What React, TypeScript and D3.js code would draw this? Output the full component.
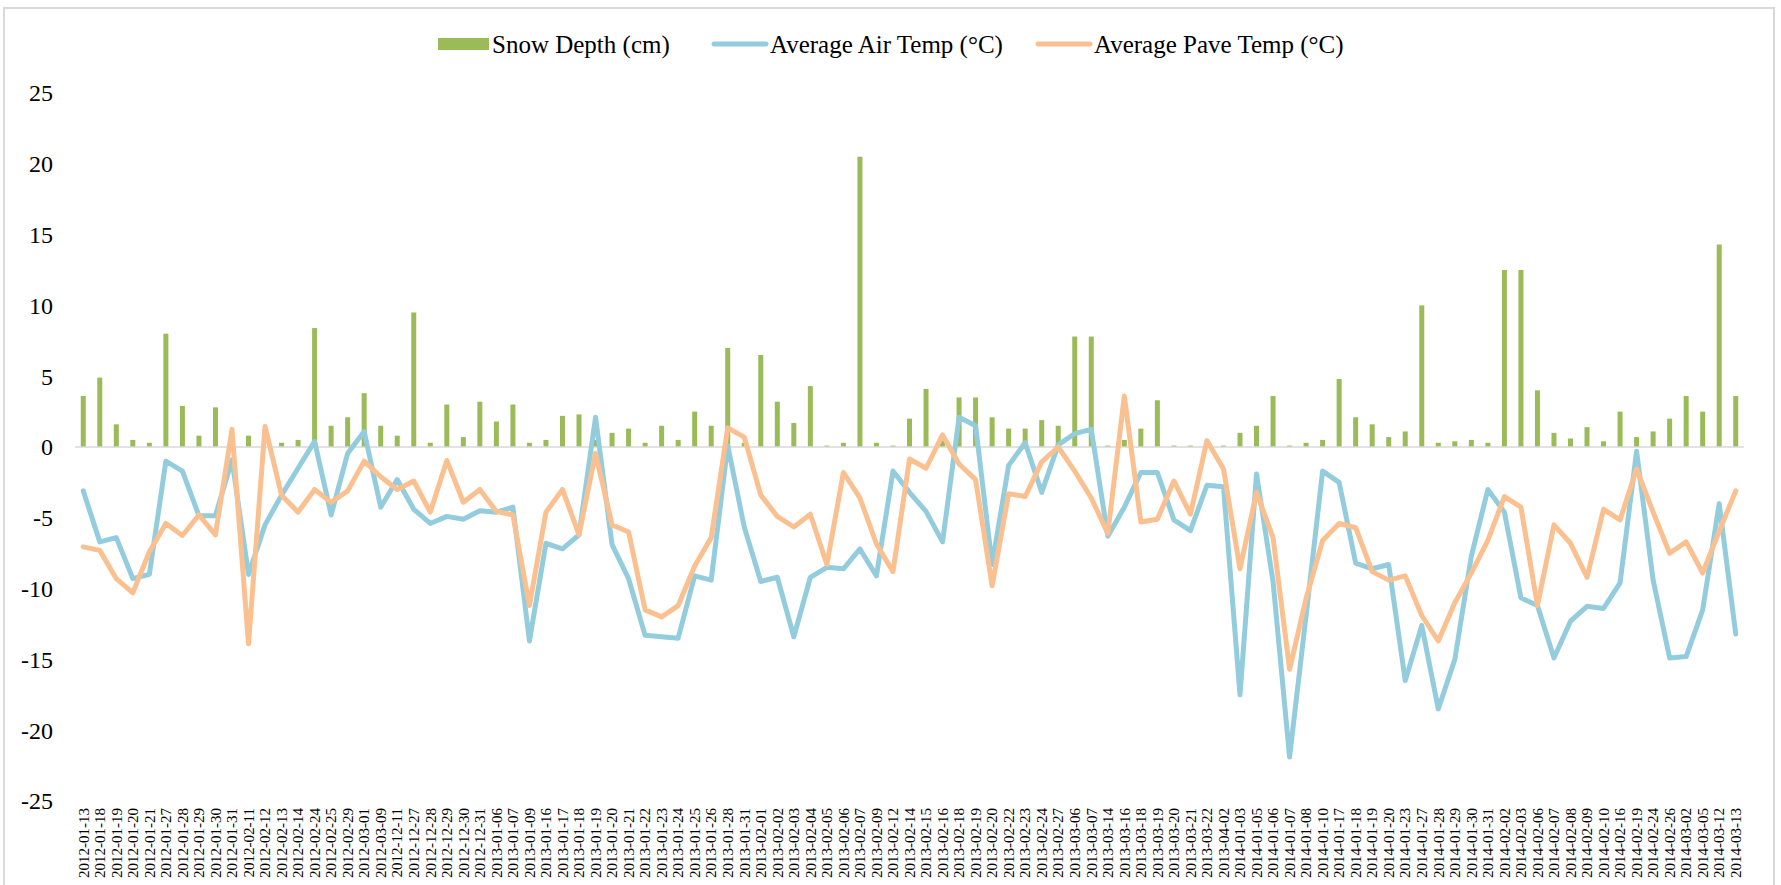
import React from "react";
import * as d3 from "d3";

const dates = [
  "2012-01-13", "2012-01-18", "2012-01-19", "2012-01-20", "2012-01-21", "2012-01-27", "2012-01-28",
  "2012-01-29", "2012-01-30", "2012-01-31", "2012-02-11", "2012-02-12", "2012-02-13", "2012-02-14",
  "2012-02-24", "2012-02-25", "2012-02-29", "2012-03-01", "2012-03-09", "2012-12-11", "2012-12-27",
  "2012-12-28", "2012-12-29", "2012-12-30", "2012-12-31", "2013-01-06", "2013-01-07", "2013-01-09",
  "2013-01-16", "2013-01-17", "2013-01-18", "2013-01-19", "2013-01-20", "2013-01-21", "2013-01-22",
  "2013-01-23", "2013-01-24", "2013-01-25", "2013-01-26", "2013-01-28", "2013-01-31", "2013-02-01",
  "2013-02-02", "2013-02-03", "2013-02-04", "2013-02-05", "2013-02-06", "2013-02-07", "2013-02-09",
  "2013-02-12", "2013-02-14", "2013-02-15", "2013-02-16", "2013-02-18", "2013-02-19", "2013-02-20",
  "2013-02-22", "2013-02-23", "2013-02-24", "2013-02-27", "2013-03-06", "2013-03-07", "2013-03-14",
  "2013-03-16", "2013-03-18", "2013-03-19", "2013-03-20", "2013-03-21", "2013-03-22", "2013-04-02",
  "2014-01-03", "2014-01-05", "2014-01-06", "2014-01-07", "2014-01-08", "2014-01-10", "2014-01-17",
  "2014-01-18", "2014-01-19", "2014-01-20", "2014-01-23", "2014-01-27", "2014-01-28", "2014-01-29",
  "2014-01-30", "2014-01-31", "2014-02-02", "2014-02-03", "2014-02-06", "2014-02-07", "2014-02-08",
  "2014-02-09", "2014-02-10", "2014-02-16", "2014-02-19", "2014-02-24", "2014-02-26", "2014-03-02",
  "2014-03-05", "2014-03-12", "2014-03-13",
];

const snowDepth = [
  3.6, 4.9, 1.6, 0.5, 0.3, 8.0, 2.9, 0.8, 2.8, 0, 0.8, 0, 0.3, 0.5, 8.4, 1.5, 2.1, 3.8, 1.5, 0.8,
  9.5, 0.3, 3.0, 0.7, 3.2, 1.8, 3.0, 0.3, 0.5, 2.2, 2.3, 0.5, 1.0, 1.3, 0.3, 1.5, 0.5, 2.5, 1.5, 7.0,
  0.3, 6.5, 3.2, 1.7, 4.3, 0.1, 0.3, 20.5, 0.3, 0.1, 2.0, 4.1, 0.5, 3.5, 3.5, 2.1, 1.3, 1.3, 1.9, 1.5,
  7.8, 7.8, 0.1, 0.5, 1.3, 3.3, 0.1, 0.1, 0.2, 0.1, 1.0, 1.5, 3.6, 0.1, 0.3, 0.5, 4.8, 2.1, 1.6, 0.7,
  1.1, 10.0, 0.3, 0.4, 0.5, 0.3, 12.5, 12.5, 4.0, 1.0, 0.6, 1.4, 0.4, 2.5, 0.7, 1.1, 2.0, 3.6, 2.5,
  14.3, 3.6,
];

const airTemp = [
  -3.1, -6.7, -6.4, -9.3, -9.0, -1.0, -1.7, -4.85, -4.85, -0.9, -9.0, -5.5, -3.4, -1.5, 0.4, -4.8,
  -0.45, 1.1, -4.25, -2.3, -4.4, -5.4, -4.9, -5.1, -4.5, -4.6, -4.25, -13.7, -6.8, -7.2, -6.2, 2.1,
  -6.9, -9.3, -13.3, -13.4, -13.5, -9.1, -9.4, 0.1, -5.65, -9.5, -9.2, -13.4, -9.2, -8.5, -8.6, -7.2,
  -9.1, -1.7, -3.2, -4.55, -6.7, 2.1, 1.5, -8.3, -1.3, 0.3, -3.2, 0.15, 0.95, 1.25, -6.3, -4.25, -1.8,
  -1.8, -5.15, -5.9, -2.7, -2.8, -17.5, -1.9, -9.5, -21.9, -11.9, -1.7, -2.5, -8.2, -8.6, -8.3, -16.5,
  -12.6, -18.5, -15.0, -7.7, -3.0, -4.6, -10.65, -11.2, -14.9, -12.3, -11.25, -11.4, -9.6, -0.3, -9.4,
  -14.9, -14.8, -11.5, -4.0, -13.2,
];

const paveTemp = [
  -7.05, -7.3, -9.3, -10.3, -7.4, -5.4, -6.25, -4.8, -6.2, 1.25, -13.9, 1.45, -3.4, -4.6, -3.0, -3.9,
  -3.1, -1.0, -2.1, -3.0, -2.4, -4.6, -0.95, -3.9, -3.0, -4.55, -4.8, -11.2, -4.6, -3.0, -6.2, -0.45,
  -5.5, -6.0, -11.5, -12.0, -11.2, -8.4, -6.4, 1.35, 0.7, -3.4, -4.9, -5.65, -4.75, -8.3, -1.8, -3.6,
  -6.85, -8.8, -0.85, -1.5, 0.85, -1.2, -2.3, -9.8, -3.3, -3.5, -1.05, 0.0, -1.7, -3.6, -6.1, 3.6,
  -5.3, -5.1, -2.4, -4.75, 0.45, -1.55, -8.6, -3.2, -6.4, -15.7, -10.7, -6.6, -5.4, -5.7, -8.8, -9.4,
  -9.1, -11.9, -13.7, -11.0, -8.9, -6.6, -3.5, -4.25, -11.2, -5.5, -6.8, -9.2, -4.4, -5.15, -1.55,
  -4.6, -7.5, -6.7, -8.9, -5.95, -3.1,
];

const yTicks = [25, 20, 15, 10, 5, 0, -5, -10, -15, -20, -25];

const seriesNames = ["Snow Depth (cm)", "Average Air Temp (°C)", "Average Pave Temp (°C)"];

const W = 1781;
const H = 885;
const FONT = "'Liberation Serif', 'Times New Roman', serif";
const GREEN = "#9BBB59";
const BLUE = "#93CDDD";
const ORANGE = "#FAC090";

export default function App() {
  const x = d3.scaleBand().domain(dates).range([75, 1744]);
  const y = d3.scaleLinear().domain([-25, 25]).range([801, 93]);
  const cx = (d: string) => (x(d) as number) + x.bandwidth() / 2;
  const barW = 5;

  const line = d3
    .line<number>()
    .x((_, i) => cx(dates[i]))
    .y((d) => y(d));

  return (
    <svg
      width={W}
      height={H}
      style={{ position: "absolute", left: 0, top: 0, display: "block", background: "#fff" }}
      fontFamily={FONT}
    >
      <rect x={4} y={8} width={1770} height={H} fill="none" stroke="#D9D9D9" strokeWidth={2} />

      {/* legend */}
      <g fontSize={25} fill="#000">
        <rect x={438} y={38} width={51} height={12} fill={GREEN} />
        <text x={492} y={44} dy="0.35em">{seriesNames[0]}</text>
        <line x1={714} x2={766} y1={44} y2={44} stroke={BLUE} strokeWidth={5} strokeLinecap="round" />
        <text x={770} y={44} dy="0.35em">{seriesNames[1]}</text>
        <line x1={1038} x2={1090} y1={44} y2={44} stroke={ORANGE} strokeWidth={5} strokeLinecap="round" />
        <text x={1094} y={44} dy="0.35em">{seriesNames[2]}</text>
      </g>

      {/* y axis labels */}
      <g fontSize={24} fill="#000" textAnchor="end">
        {yTicks.map((t) => (
          <text key={t} x={53} y={y(t)} dy="0.35em">{t}</text>
        ))}
      </g>

      {/* bars */}
      <g fill={GREEN}>
        {snowDepth.map((v, i) => (
          <rect key={dates[i]} x={cx(dates[i]) - barW / 2} y={y(v)} width={barW} height={y(0) - y(v)} />
        ))}
      </g>

      <line x1={75} x2={1744} y1={y(0)} y2={y(0)} stroke="#D9D9D9" strokeWidth={1.5} />

      <path d={line(airTemp) as string} fill="none" stroke={BLUE} strokeWidth={5} strokeLinejoin="round" strokeLinecap="round" />
      <path d={line(paveTemp) as string} fill="none" stroke={ORANGE} strokeWidth={5} strokeLinejoin="round" strokeLinecap="round" />

      {/* x labels */}
      <g fontSize={15} fill="#000" textAnchor="end">
        {dates.map((d) => (
          <text key={d} transform={`translate(${cx(d)},808) rotate(-90)`} dy="0.35em">{d}</text>
        ))}
      </g>
    </svg>
  );
}
